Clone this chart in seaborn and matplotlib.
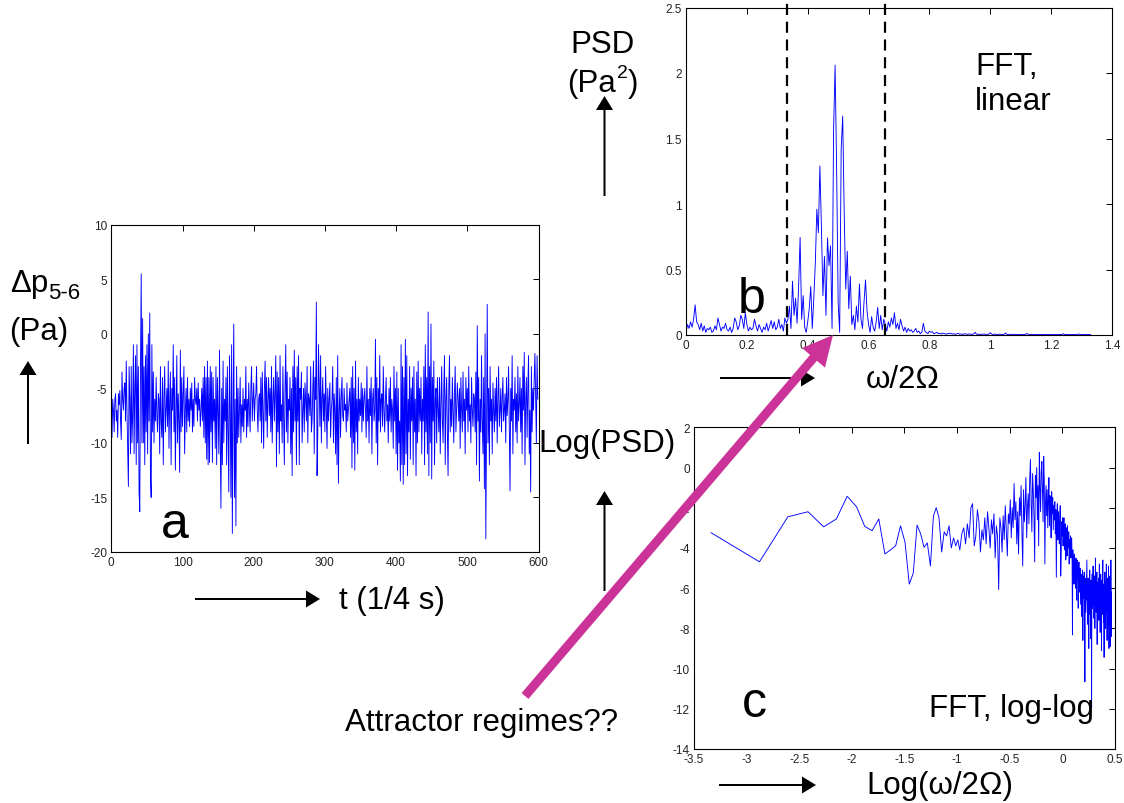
import numpy as np
import pandas as pd
import matplotlib
matplotlib.use("Agg")
import matplotlib.pyplot as plt
import seaborn as sns
from matplotlib.patches import FancyArrowPatch

# ---------------------------------------------------------------------------
# (a) pressure difference between probes 5 and 6, one sample per 1/4 s
pressure = [
    -5, -9.5, -6, -7, -9, -6, -5.5, -8, -7, -9.5,
    -5.5, -6.5, -5.2, -8, -9.7, -3.5, -6, -7, -5, -4.5,
    -8, -2.5, -7, -10.5, -14, -3, -6, -11, -3, -10,
    -7.5, -1, -11, -5, -2, -12, -1, -10, -3, -14.5,
    -16.3, -3, 5.5, -10, 1.4, -10, -3, -12, -2, -9,
    -1, -11, 0, -8, 1.9, -13, -15, -1, -9, -3.5,
    -10, -6, -8, -4, -7.5, -9, -5.5, -6, -11, -3,
    -8, -9.5, -4, -12, -6, -3, -9, -7, -5, -8.5,
    -2.5, -10.5, -6, -3.5, -12, -5, -7, -1, -9, -4,
    -12.5, -7, -2, -10, -5.5, -8, -12.7, -1.5, -9, -4,
    -8.5, -5.5, -3, -11, -7, -5, -9, -4, -8, -6,
    -8.5, -5, -7, -4.5, -9, -6, -8.5, -4, -6, -6.5,
    -5, -8, -4.5, -7, -6, -8.5, -7, -5, -8, -4,
    -9.5, -3, -10, -4, -11.5, -2.5, -12, -4, -11.8, -3,
    -9, -3.5, -11.8, -4, -8, -6, -10.5, -3, -12, -4,
    -7, -11, -1.5, -10, -16, -5, -12, -2.5, -10, -6,
    -8, -4, -12, -3, -9, -14.5, -2, -7, -15, -1,
    -18.3, -7, 0.9, -15, -6, -17.6, -3, -10, -5, -9.5,
    -7, -4, -10, -6.5, -8.5, -5, -9, -6, -7, -3,
    -9.5, -6, -8.5, -4.5, -7, -9, -5, -3, -8, -6,
    -4.5, -8, -6, -5.5, -3, -7, -9, -6, -5.5, -8,
    -4, -10, -3.5, -7, -10.5, -5, -2.5, -8, -4, -9.5,
    -6, -4, -7.5, -5, -9, -3, -10, -6, -4, -8,
    -5.5, -2, -12.2, -3.5, -9, -4, -11, -2, -8, -6.5,
    -10, -3, -7.5, -12, -5, -1, -9, -3.5, -10, -6,
    -7, -4, -11, -5, -13, -3, -9, -1.5, -8, -4,
    -12, -3, -8, -2, -12, -5, -6, -3.5, -10, -7,
    -5, -9, -4.5, -6, -8, -3, -10, -5.5, -6, -7.5,
    -3, -9, -8, -5, -2.5, -11, -4, -6, 2.9, -13,
    -9, -1, -5, -8.5, -2, -10, -6, -4, -8, -5.5,
    -9, -3, -7, -10.5, -5, -8, -6, -4.5, -9.5, -7,
    -6, -3, -10, -5.5, -7, -11, -4, -12, -2, -13.7,
    -7, -5, -9.5, -6, -4, -7.5, -8, -5, -7, -6.5,
    -9, -4.5, -8, -7, -6, -5, -9.5, -4, -12.3, -3,
    -10, -5, -12.5, -2.5, -9, -6, -11, -4, -8, -6,
    -7.5, -4.5, -9, -5, -8, -6, -5, -7, -9.5, -3,
    -8, -6, -10, -5, -7.5, -4, -11, -6, -5, -8,
    -7, -0.5, -10, -4, -12, -5, -8, -2, -9, -6,
    -5.5, -8.5, -3, -7, -9, -6, -4, -8, -6.5, -10,
    -5, -8, -4, -9, -6, -7, -10.5, -3, -8, -5,
    -11, -3.5, -12.5, -5, -10, -8, -13.5, -1, -12, -3,
    -13.8, -4, -12, -0.5, -11, -2, -13, -6, -9, -3,
    -11.5, -5, -8, -4, -12, -3, -9, -6, -13, -3.5,
    -10, -2.5, -9, -5, -8, -4, -11, -6, -8, -3,
    -12, -1, -9, -4, -11, 2, -13, -3, -10, 0.9,
    -13.3, -4, -8, -2.5, -12, -6, -5, -10, -4, -7,
    -9, -4, -11, -6.5, -3, -8, -10, -5, -2, -12,
    -6, -4, -9, -13, -5, -2, -9, -6, -8.5, -4,
    -7, -10, -5.5, -3, -9, -7, -4.5, -6, -8, -5,
    -10.5, -4, -7, -9, -3.5, -8, -6, -11, -4, -7,
    -5, -9, -3, -8, -6.5, -10, -4, -7, -8.5, -5.5,
    -6, -9, -3.5, -12, 0.75, -8, -4, -13.5, -6, -9,
    -2, -8, -11, -4, -14.2, 0, -18.8, -9, 2.7, -10,
    -5, -12, -3, -8, -6, -11, -4.5, -7, -9, -5,
    -8, -4, -10, -6, -3, -8.5, -7, -5, -9, -6,
    -4, -8, -7, -5.5, -10, -4, -7.5, -6, -3, -9,
    -14.4, -5, -8, -2, -11, -6, -7, -4, -9, -5.5,
    -10, -3, -8, -6.5, -4, -9, -5, -11, -3, -7,
    -1.7, -12, -6, -4, -9.5, -5, -2, -11, -7, -14.5,
    -3, -9, -5, -7, -4, -1.8, -6, -10, -2, -6,
]

# (b) linear power spectrum, bins of 0.005 in w/2Omega
FREQ_STEP_B = 0.005
psd_linear = [
    0.02, 0.08, 0.05, 0.10, 0.06, 0.12, 0.23, 0.10, 0.08, 0.04,
    0.09, 0.03, 0.07, 0.02, 0.05, 0.04, 0.06, 0.02, 0.03, 0.07,
    0.04, 0.13, 0.08, 0.03, 0.06, 0.05, 0.09, 0.04, 0.03, 0.06,
    0.02, 0.05, 0.13, 0.10, 0.04, 0.07, 0.15, 0.12, 0.05, 0.17,
    0.08, 0.03, 0.06, 0.04, 0.05, 0.12, 0.07, 0.03, 0.08, 0.05,
    0.02, 0.06, 0.04, 0.09, 0.03, 0.07, 0.11, 0.05, 0.10, 0.04,
    0.06, 0.12, 0.05, 0.08, 0.03, 0.13, 0.09, 0.12,
    0.22, 0.05, 0.41, 0.15, 0.28, 0.09, 0.36, 0.745, 0.12, 0.30, 0.06, 0.02,
    0.10, 0.20, 0.37, 0.05, 0.28, 0.55, 0.96, 0.78, 1.29, 0.83,
    0.30, 0.60, 0.15, 0.74, 0.53, 0.68, 0.05, 1.56, 2.06, 1.27,
    0.25, 0.02, 1.42, 1.67, 0.91, 0.35, 0.64, 0.20, 0.45, 0.08,
    0.15, 0.04, 0.22, 0.10, 0.39, 0.12, 0.05, 0.25, 0.42, 0.18,
    0.08, 0.02, 0.14, 0.06, 0.03, 0.10, 0.21, 0.05, 0.15, 0.04,
    0.12, 0.08, 0.03, 0.10, 0.06, 0.13, 0.08, 0.17, 0.05, 0.09,
    0.04, 0.12, 0.07, 0.03, 0.06, 0.02, 0.05, 0.03, 0.04, 0.02,
    0.03, 0.05, 0.02, 0.03, 0.01, 0.02, 0.09, 0.03, 0.02, 0.01,
    0.03, 0.02, 0.025, 0.01, 0.015, 0.02, 0.01, 0.012, 0.008, 0.015,
    0.01, 0.006, 0.012, 0.009, 0.014, 0.007, 0.01, 0.005, 0.009, 0.012,
    0.006, 0.008, 0.004, 0.01, 0.007, 0.005, 0.009, 0.006, 0.004, 0.008,
    0.02, 0.005, 0.007, 0.004, 0.006, 0.005, 0.008, 0.004, 0.006, 0.005,
    0.018, 0.006, 0.004, 0.007, 0.005, 0.004, 0.006, 0.005, 0.003, 0.005,
    0.015, 0.004, 0.005, 0.003, 0.006, 0.004, 0.005, 0.003, 0.004, 0.005,
    0.004, 0.003, 0.005, 0.004, 0.012, 0.003, 0.004, 0.005, 0.003, 0.004,
    0.003, 0.005, 0.004, 0.003, 0.004, 0.003, 0.005, 0.003, 0.004, 0.003,
    0.004, 0.003, 0.005, 0.003, 0.004, 0.003, 0.004, 0.003, 0.01, 0.003,
    0.004, 0.003, 0.004, 0.003, 0.004, 0.003, 0.004, 0.003, 0.008, 0.003,
    0.004, 0.003, 0.004, 0.003, 0.004, 0.003, 0.004,
]
band_edges = [1 / 3, 0.655]

# (c) log-log spectrum, one value per frequency bin k = 1, 2, ...
LOG_SCALE = 0.665
FREQ_STEP_C = 0.0066
log_psd = [
    -3.24, -4.69, -2.45, -2.2, -2.95, -2.56, -1.43, -1.95, -2.93, -3.14,
    -2.56, -4.3, -4.1, -3.89, -2.9, -3.72, -5.8, -5.25, -2.86, -3.3,
    -3.97, -3.75, -4.9, -2.41, -2.0, -2.5, -4.2, -3.2, -3.4, -2.9,
    -4.0, -3.5, -3.9,
    -3.6, -4.1, -3.3, -3.0, -3.8, -2.8, -3.5, -2.0, -1.8, -3.9,
    -3.4, -2.1, -2.7, -4.2, -3.1, -3.6, -2.5, -3.8, -2.2, -3.0,
    -4.0, -2.6, -3.3, -2.3, -4.5, -2.9, -3.4, -6.07, -2.5, -3.0,
    -4.2, -2.4, -3.6, -1.9, -3.1, -4.4, -2.3, -2.8, -1.6, -3.5,
    -2.0, -3.0, -0.8, -2.6, -1.7, -3.8, -2.2, -4.3, -1.5, -2.4,
    -0.9, -3.2, -4.9, -1.1, -2.7, -1.9, -0.5, -3.5, -2.0, -1.3,
    -2.8, -0.6, 0.4, -1.8, -3.2, -0.3, -1.2, -2.5, -4.7, -0.4,
    -1.5, 0.0, -2.6, -0.9, -3.9, 0.76, -1.0, -2.2, -0.2, 0.3,
    -1.3, -2.7, 0.56, -0.7, -4.8, -1.8, -0.9, -2.4, -1.1, -3.0,
    -1.6, -0.5, -2.9, -1.4, -2.0, -3.5, -1.2, -2.3, -1.5, -3.1,
    -1.9, -2.6, -1.7, -3.3, -2.1, -5.46, -2.5, -1.8, -3.6, -2.2,
    -2.9, -3.8, -2.4, -1.9, -5.4, -4.3, -2.7, -3.4, -2.5, -3.9,
    -3.0, -2.5, -4.1, -3.3, -2.8, -4.6, -3.5, -3.0, -4.4, -2.9,
    -3.7, -4.0, -3.2, -4.8, -3.6, -4.2, -3.4, -4.5, -3.9, -3.5,
    -4.3, -8.33, -4.1, -5.0, -4.4, -5.8, -4.3, -5.2, -4.7, -6.0,
    -4.5, -5.3, -6.6, -4.6, -5.5, -5.0, -7.0, -5.2, -4.7, -5.6,
    -6.2, -5.0, -5.8, -6.8, -5.3, -7.4, -5.6, -6.1, -5.1, -8.6,
    -5.9, -5.4, -6.5, -5.2, -6.9, -10.66, -6.0, -5.5, -7.2, -6.3,
    -5.4, -4.6, -6.6, -5.8, -7.8, -5.5, -6.2, -9.0, -5.7, -6.5,
    -5.1, -7.3, -6.0, -8.5, -5.6, -6.7, -12.0, -6.2, -5.3, -7.0,
    -6.1, -4.9, -6.8, -5.6, -7.5, -6.3, -5.4, -8.0, -6.0, -4.5,
    -6.9, -5.8, -7.2, -6.4, -5.2, -8.8, -6.1, -5.7, -7.0, -6.3,
    -5.5, -7.6, -6.2, -4.8, -6.7, -5.9, -8.2, -6.4, -5.3, -7.1,
    -6.0, -9.1, -6.6, -5.6, -7.3, -6.1, -4.6, -6.9, -5.8, -7.7,
    -6.3, -9.44, -5.9, -6.8, -5.2, -7.4, -6.5, -8.0, -5.7, -6.6,
    -4.8, -7.2, -6.1, -8.6, -5.9, -6.9, -5.5, -7.8, -6.4, -4.9,
    -7.0, -9.0, -6.0, -5.4, -7.5, -6.3, -8.9, -5.8, -6.7, -4.6,
    -7.1, -8.4, -6.2,
]

# tick positions and labels
ticks_a_x = [0, 100, 200, 300, 400, 500, 600]
ticks_a_y = [-20, -15, -10, -5, 0, 5, 10]
ticks_b_x = [0, 0.2, 0.4, 0.6, 0.8, 1.0, 1.2, 1.4]
ticks_b_x_labels = ["0", "0.2", "0.4", "0.6", "0.8", "1", "1.2", "1.4"]
ticks_b_y = [0, 0.5, 1.0, 1.5, 2.0, 2.5]
ticks_b_y_labels = ["0", "0.5", "1", "1.5", "2", "2.5"]
ticks_c_x = [-3.5, -3, -2.5, -2, -1.5, -1, -0.5, 0, 0.5]
ticks_c_x_labels = ["-3.5", "-3", "-2.5", "-2", "-1.5", "-1", "-0.5", "0", "0.5"]
ticks_c_y = [-14, -12, -10, -8, -6, -4, -2, 0, 2]

# ---------------------------------------------------------------------------
sns.set_theme(style="white")
plt.rcParams["font.family"] = ["Liberation Sans", "DejaVu Sans"]
plt.rcParams["axes.unicode_minus"] = False

W, H = 1124, 804
fig = plt.figure(figsize=(W / 100, H / 100), dpi=100)
fig.patch.set_facecolor("white")


def box(left, top, right, bottom):
    return [left / W, 1 - bottom / H, (right - left) / W, (bottom - top) / H]


def fx(x):
    return x / W


def fy(y):
    return 1 - y / H


LINE = "#0000ff"
TICK_COLOR = "#222222"


def matlab_axes(ax):
    for s in ax.spines.values():
        s.set_visible(True)
        s.set_color("black")
        s.set_linewidth(0.8)
    ax.tick_params(direction="in", length=4, width=0.7, top=True, right=True,
                   labelsize=8.5, labelcolor=TICK_COLOR, color="black", pad=3)
    ax.set_xlabel("")
    ax.set_ylabel("")
    ax.set_facecolor("white")


ax_a = fig.add_axes(box(111.3, 225.7, 538.5, 553))
ax_b = fig.add_axes(box(686, 8.5, 1112, 336))
ax_c = fig.add_axes(box(694, 428.3, 1115, 750))

# panel a: time series
df_a = pd.DataFrame({"t": np.arange(len(pressure)), "dp": pressure})
sns.lineplot(data=df_a, x="t", y="dp", ax=ax_a, color=LINE, linewidth=0.65, sort=False)
ax_a.set_xlim(0, 600)
ax_a.set_ylim(-20, 10)
ax_a.set_xticks(ticks_a_x)
ax_a.set_yticks(ticks_a_y)
matlab_axes(ax_a)

# panel b: linear spectrum with band limits
df_b = pd.DataFrame({"w": np.arange(len(psd_linear)) * FREQ_STEP_B, "psd": psd_linear})
sns.lineplot(data=df_b, x="w", y="psd", ax=ax_b, color=LINE, linewidth=0.65, sort=False)
for edge in band_edges:
    ax_b.axvline(edge, ymin=0, ymax=336 / 327.5, color="black", lw=1.6,
                 dashes=(5, 3), clip_on=False, zorder=5)
ax_b.set_xlim(0, 1.4)
ax_b.set_ylim(0, 2.5)
ax_b.set_xticks(ticks_b_x)
ax_b.set_xticklabels(ticks_b_x_labels)
ax_b.set_yticks(ticks_b_y)
ax_b.set_yticklabels(ticks_b_y_labels)
matlab_axes(ax_b)

# panel c: log-log spectrum
bins = np.arange(1, len(log_psd) + 1)
df_c = pd.DataFrame({"logw": LOG_SCALE * np.log(bins * FREQ_STEP_C), "logpsd": log_psd})
sns.lineplot(data=df_c, x="logw", y="logpsd", ax=ax_c, color=LINE, linewidth=0.65, sort=False)
ax_c.set_xlim(-3.5, 0.5)
ax_c.set_ylim(-14, 2)
ax_c.set_xticks(ticks_c_x)
ax_c.set_xticklabels(ticks_c_x_labels)
ax_c.set_yticks(ticks_c_y)
matlab_axes(ax_c)

# ---------------------------------------------------------------------------
# labels written on the slide
BIG = 22.5
LETTER = 36


def put(x, y, s, size=BIG, **kw):
    kw.setdefault("ha", "left")
    kw.setdefault("va", "baseline")
    fig.text(fx(x), fy(y), s, fontsize=size, color="black", **kw)


put(10, 292, "Δp")
put(48, 299, "5-6", size=16)
put(9, 340, "(Pa)")
put(161, 538, "a", size=LETTER)
put(339, 609, "t (1/4 s)")

put(570, 53, "PSD")
put(567, 92, "(Pa")
put(617, 78, "2", size=14)
put(628, 92, ")")
put(738, 313, "b", size=LETTER)
put(975, 75, "FFT,")
put(975, 110, "linear")
put(866, 388, "ω/2Ω")

put(538, 452, "Log(PSD)")
put(742, 717, "c", size=LETTER)
put(929, 717, "FFT, log-log")
put(866, 794, "Log(ω/2Ω)")
put(345, 731, "Attractor regimes??")


def arrow(x0, y0, x1, y1, color="black", tail=2.0, head_w=17, head_l=14, z=6):
    unit = 10 / 0.72  # pixels per mutation unit (10 pt at 100 dpi)
    style = (f"simple,tail_width={tail / unit:.3f},"
             f"head_width={head_w / unit:.3f},head_length={head_l / unit:.3f}")
    p = FancyArrowPatch((fx(x0), fy(y0)), (fx(x1), fy(y1)),
                        transform=fig.transFigure, arrowstyle=style,
                        mutation_scale=10, color=color, lw=0,
                        shrinkA=0, shrinkB=0, zorder=z)
    fig.add_artist(p)


# axis direction arrows
arrow(28, 445, 28, 362)
arrow(195, 600, 320, 600)
arrow(604.5, 197, 604.5, 97)
arrow(720, 379, 815, 379)
arrow(604.5, 592, 604.5, 492)
arrow(719, 786, 816, 786)

# pointer from the question to the spectral peak
arrow(525, 697, 833, 336, color="#cc3399", tail=9, head_w=30, head_l=30, z=8)

fig.savefig("out.png", dpi=100, facecolor="white")
